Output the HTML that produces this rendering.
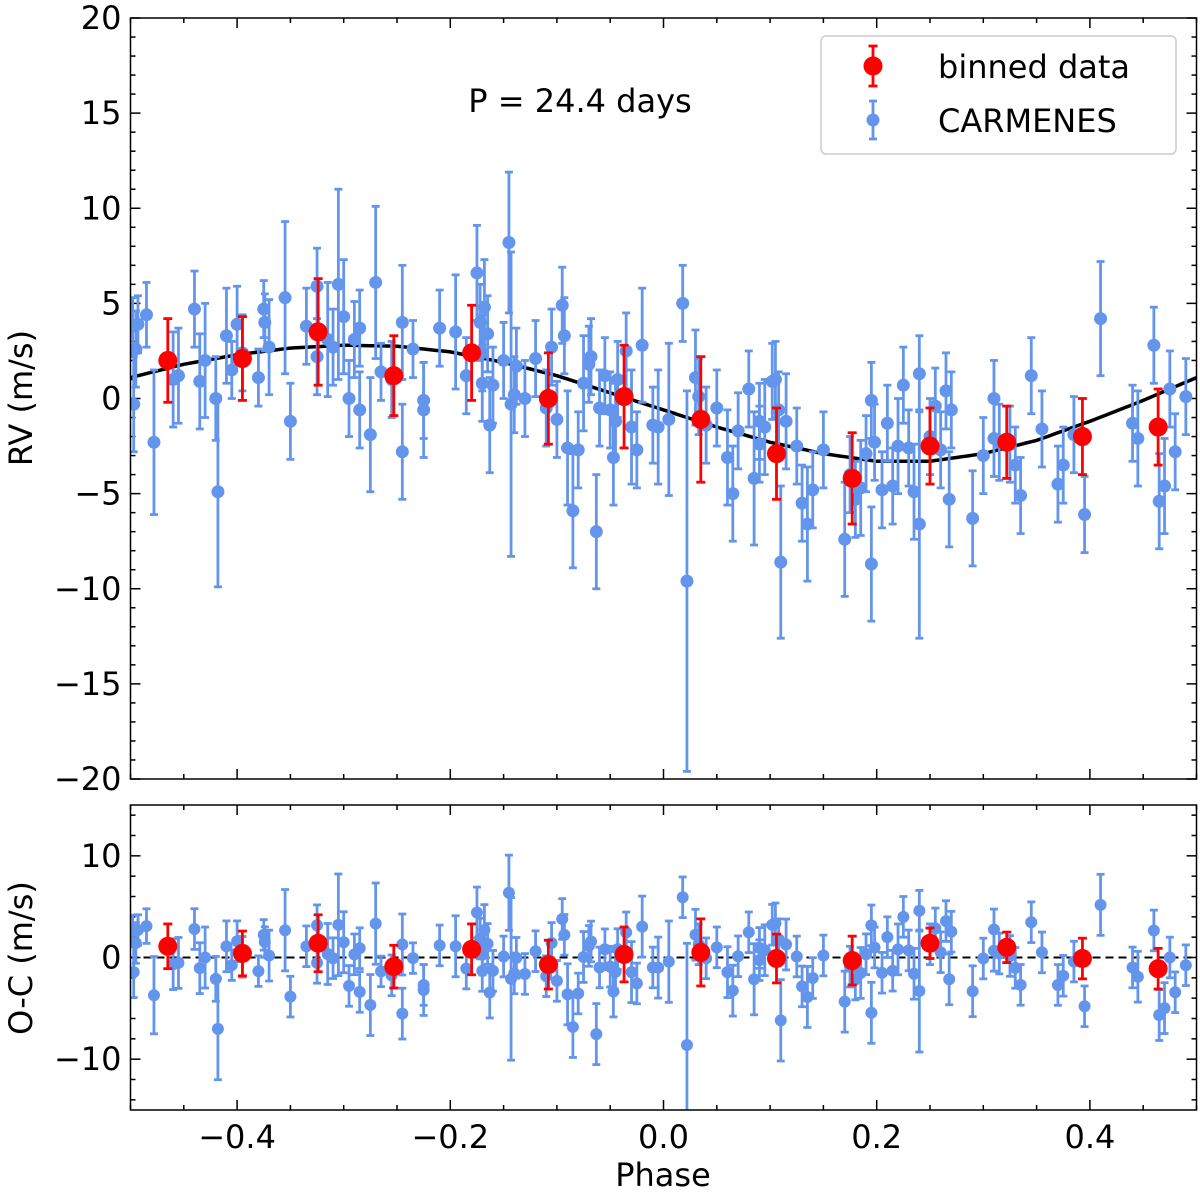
<!DOCTYPE html>
<html><head><meta charset="utf-8"><style>
html,body{margin:0;padding:0;background:#fff;}
svg{display:block;font-family:"DejaVu Sans","Liberation Sans",sans-serif;}
</style></head><body>
<svg id="chart" width="1200" height="1193" viewBox="0 0 1200 1193" xmlns="http://www.w3.org/2000/svg"></svg>
<script>
// ---- data ----
const modelPhases=[-0.5,-0.45,-0.4,-0.35,-0.3,-0.25,-0.2,-0.15,-0.1,-0.05,0,0.05,0.1,0.15,0.2,0.25,0.3,0.35,0.4,0.45,0.5];
const modelRV=[1.1,1.8,2.3,2.65,2.8,2.75,2.45,1.9,1.2,0.3,-0.6,-1.5,-2.3,-2.9,-3.3,-3.3,-2.9,-2.2,-1.2,-0.1,1.1];
const binPhase=[-0.465,-0.395,-0.324,-0.253,-0.18,-0.108,-0.037,0.035,0.106,0.177,0.25,0.322,0.393,0.464];
const binRV=[2.0,2.1,3.5,1.2,2.4,0.0,0.1,-1.1,-2.9,-4.2,-2.5,-2.3,-2.0,-1.5];
const binErr=[2.2,2.2,2.8,2.1,2.5,2.4,2.7,3.3,2.4,2.4,2.0,1.9,2.0,2.0];
const binOC=[1.1,0.4,1.4,-0.9,0.8,-0.7,0.3,0.5,-0.1,-0.3,1.4,1.0,-0.1,-1.1];
const binOCErr=[2.2,2.2,2.8,2.1,2.5,2.4,2.7,3.3,2.4,2.4,1.5,1.5,2.0,2.0];
const ptPhase=[-0.498,-0.497,-0.495,-0.493,-0.485,-0.478,-0.46,-0.455,-0.44,-0.435,-0.43,-0.42,-0.418,-0.41,-0.405,-0.40,-0.395,-0.38,-0.375,-0.374,-0.37,-0.355,-0.35,-0.335,-0.325,-0.325,-0.315,-0.31,-0.305,-0.30,-0.295,-0.29,-0.285,-0.285,-0.275,-0.27,-0.265,-0.255,-0.245,-0.245,-0.235,-0.225,-0.225,-0.21,-0.195,-0.185,-0.175,-0.172,-0.17,-0.17,-0.168,-0.165,-0.163,-0.16,-0.15,-0.145,-0.143,-0.14,-0.138,-0.13,-0.12,-0.11,-0.105,-0.10,-0.095,-0.093,-0.09,-0.085,-0.08,-0.075,-0.07,-0.068,-0.063,-0.06,-0.055,-0.05,-0.047,-0.045,-0.043,-0.035,-0.03,-0.025,-0.02,-0.01,-0.005,0.005,0.018,0.022,0.03,0.033,0.04,0.05,0.06,0.065,0.07,0.08,0.085,0.09,0.09,0.095,0.102,0.105,0.108,0.11,0.115,0.125,0.13,0.135,0.14,0.15,0.17,0.175,0.18,0.185,0.19,0.195,0.195,0.198,0.205,0.21,0.215,0.22,0.225,0.23,0.235,0.24,0.24,0.25,0.255,0.26,0.265,0.268,0.27,0.29,0.30,0.31,0.31,0.315,0.325,0.33,0.335,0.345,0.355,0.37,0.375,0.385,0.395,0.41,0.44,0.445,0.46,0.465,0.47,0.475,0.48,0.49];
const ptRV=[3.8,-0.3,2.6,3.9,4.4,-2.3,1.0,1.2,4.7,0.9,2.0,0.0,-4.9,3.3,1.5,3.9,2.4,1.1,4.7,4.0,2.7,5.3,-1.2,3.8,5.9,2.2,3.1,2.7,6.0,4.3,0.0,3.1,3.7,-0.6,-1.9,6.1,1.4,1.0,4.0,-2.8,2.6,-0.1,-0.6,3.7,3.5,1.2,6.6,4.0,0.8,2.4,4.8,3.4,-1.4,0.7,2.0,8.2,-0.3,0.2,1.7,0.0,2.1,-0.5,2.7,-1.1,4.9,3.3,-2.6,-5.9,-2.7,0.8,1.8,2.2,-7.0,-0.5,1.2,-0.6,-3.1,-1.2,1.0,2.5,-1.5,-2.7,2.8,-1.4,-1.5,-1.1,5.0,-9.6,1.1,0.1,-1.4,-0.5,-3.1,-5.0,-1.7,0.5,-4.2,-2.4,-1.2,-1.5,0.9,1.0,-0.6,-8.6,-1.2,-2.5,-5.5,-6.6,-4.8,-2.7,-7.4,-4.0,-5.3,-4.7,-2.9,-0.1,-8.7,-2.3,-4.8,-1.3,-4.6,-2.5,0.7,-2.6,-4.9,1.3,-6.6,-2.0,-0.4,-2.7,0.4,-5.3,-0.6,-6.3,-3.0,-2.1,0.0,-2.3,-2.4,-3.5,-5.1,1.2,-1.6,-4.5,-3.5,-1.9,-6.1,4.2,-1.3,-2.1,2.8,-5.4,-4.6,0.5,-2.8,0.1];
const ptErr=[1.5,2.5,2,1.5,1.7,3.8,2.5,2.5,2,2.5,3,2.2,5,2.5,1.5,2,2,1.5,1.5,1.5,2.5,4,2,2,2,2,3,2,5,3,2,2,2,2,3,4,1.5,2,3,2.5,1.5,2,2.5,2,3,2,2.5,2,2,2,2.5,2,2.5,2,2,3.7,8,2,2,2,2,2,2,2,2,2,3,3,2,2.5,2,2,3,2,2,2,2.5,2,2,2,3,2,3,2,3,4,2,10,2.5,2,2,2,2.5,2.5,2,2,3.5,2,2,2.5,2,2,2,4,2.5,2,2,3,2,2,3,2,2,2.5,2,2,3,2,2,2,2,2.5,2,2,2.5,2,6,2,2,2,2,2.5,2,2.5,2,2,2,2,2,2,2,2,2,2,2,2,2,3,2,2.5,2,2.5,2.5,2,2,2];
const xTicks=[-0.4,-0.2,0.0,0.2,0.4];
const yTicksTop=[20,15,10,5,0,-5,-10,-15,-20];
const yTicksBot=[10,0,-10];

// ---- scales ----
const X0=130.5,X1=1196.5,T0=18,T1=779,B0=805,B1=1110;
const sx=p=>X0+(p+0.5)*(X1-X0);
const syT=v=>T0+(20-v)*(T1-T0)/40;
const syB=v=>B0+(15-v)*(B1-B0)/30;
const NS="http://www.w3.org/2000/svg";
const svg=document.getElementById('chart');
function mk(tag,attrs,parent){const e=document.createElementNS(NS,tag);for(const k in attrs)e.setAttribute(k,attrs[k]);(parent||svg).appendChild(e);return e;}
function model(p){for(let i=0;i<modelPhases.length-1;i++){if(p<=modelPhases[i+1]){const t=(p-modelPhases[i])/(modelPhases[i+1]-modelPhases[i]);return modelRV[i]+t*(modelRV[i+1]-modelRV[i]);}}return modelRV[modelRV.length-1];}
function fmt(v){return (v<0?'\u2212':'')+Math.abs(v).toString();}
function fmtX(v){return (v<0?'\u2212':'')+Math.abs(v).toFixed(1);}

function panel(name,pTop,pBot,sy,yTicks,minorStep,yMin,yMax,showXLabels){
  const g=mk('g',{});
  
  
  const clip=mk('clipPath',{id:'clip-'+name},g);
  mk('rect',{x:X0,y:pTop,width:X1-X0,height:pBot-pTop},clip);
  const ticks=mk('g',{stroke:'#000','stroke-width':1.5},g);
  
  
  for(let k=0;k<=20;k++){const p=-0.5+k*0.05;const x=sx(p);const major=xTicks.some(t=>Math.abs(t-p)<1e-6);const L=major?10:5;
    mk('line',{x1:x,x2:x,y1:pBot,y2:pBot-L},ticks);mk('line',{x1:x,x2:x,y1:pTop,y2:pTop+L},ticks);}
  for(let v=yMin;v<=yMax+1e-6;v+=minorStep){const y=sy(v);const major=yTicks.includes(Math.round(v*1000)/1000);const L=major?10:5;
    mk('line',{x1:X0,x2:X0+L,y1:y,y2:y},ticks);mk('line',{x1:X1,x2:X1-L,y1:y,y2:y},ticks);}
  yTicks.forEach(v=>{const t=mk('text',{x:X0-9,y:sy(v)+11,'text-anchor':'end','font-size':32},g);t.textContent=fmt(v);
    
    });
  if(showXLabels)xTicks.forEach(v=>{const t=mk('text',{x:sx(v),y:pBot+38,'text-anchor':'middle','font-size':32},g);t.textContent=fmtX(v);
    
    });
  const data=mk('g',{'clip-path':'url(#clip-'+name+')'},g);
  return {g,data};
}
function errPoint(parent,x,y,e1,e2,color,r,cap,w,nm){
  const g=mk('g',{},parent);
  
  
  mk('line',{x1:x,x2:x,y1:e1,y2:e2,stroke:color,'stroke-width':w},g);
  mk('line',{x1:x-cap,x2:x+cap,y1:e1,y2:e1,stroke:color,'stroke-width':w},g);
  mk('line',{x1:x-cap,x2:x+cap,y1:e2,y2:e2,stroke:color,'stroke-width':w},g);
  mk('circle',{cx:x,cy:y,r:r,fill:color},g);
}

const topP=panel('rv-panel',T0,T1,syT,yTicksTop,1,-20,20,false);
const botP=panel('oc-panel',B0,B1,syB,yTicksBot,2,-14,14,true);

let d='';for(let i=0;i<=200;i++){const p=-0.5+i/200;d+=(i?'L':'M')+sx(p).toFixed(1)+','+syT(model(p)).toFixed(1);}
const curve=mk('path',{d:d,fill:'none',stroke:'#000','stroke-width':3.5},topP.data);


const zl=mk('line',{x1:X0,x2:X1,y1:syB(0),y2:syB(0),stroke:'#000','stroke-width':2,'stroke-dasharray':'8,5'},botP.data);



const BLUE='#6495ED',RED='#FF0000';
const nPts=Math.min(ptPhase.length,ptRV.length);
for(let i=0;i<nPts;i++){
  const x=sx(ptPhase[i]),v=ptRV[i],e=(ptErr[i]||2),oc=v-model(ptPhase[i]);
  errPoint(topP.data,x,syT(v),syT(v+e),syT(v-e),BLUE,6.5,4,2.8,'carmenes-point');
  errPoint(botP.data,x,syB(oc),syB(oc+e),syB(oc-e),BLUE,6,4,2.8,'carmenes-residual');
}
for(let i=0;i<binPhase.length;i++){
  const x=sx(binPhase[i]);
  errPoint(topP.data,x,syT(binRV[i]),syT(binRV[i]+binErr[i]),syT(binRV[i]-binErr[i]),RED,9.5,4.5,2.8,'binned-point');
  errPoint(botP.data,x,syB(binOC[i]),syB(binOC[i]+binOCErr[i]),syB(binOC[i]-binOCErr[i]),RED,9.5,4.5,2.8,'binned-residual');
}
[[T0,T1,'rv-frame'],[B0,B1,'oc-frame']].forEach(f=>{const r=mk('rect',{x:X0,y:f[0],width:X1-X0,height:f[1]-f[0],fill:'none',stroke:'#000','stroke-width':1.5});
  
  });

function txt(s,attrs,nm){const t=mk('text',attrs);t.textContent=s;
  
  return t;}
txt('RV (m/s)',{x:0,y:0,'font-size':32,'text-anchor':'middle',transform:'translate(32,398) rotate(-90)'},'y-axis-title-rv');
txt('O-C (m/s)',{x:0,y:0,'font-size':32,'text-anchor':'middle',transform:'translate(32,958) rotate(-90)'},'y-axis-title-oc');
txt('Phase',{x:663,y:1186,'font-size':32,'text-anchor':'middle'},'x-axis-title');
txt('P = 24.4 days',{x:580,y:112,'font-size':32,'text-anchor':'middle'},'period-annotation');

const lg=mk('g',{});


mk('rect',{x:821,y:36,width:355,height:118,rx:5,fill:'#fff',stroke:'#ccc','stroke-width':1.5},lg);
errPoint(lg,873,66,46,86,RED,9.5,4.5,2.8,'legend-entry-binned');
errPoint(lg,873,120,101,139,BLUE,6.5,4,2.8,'legend-entry-carmenes');
const l1=mk('text',{x:938,y:78,'font-size':32},lg);l1.textContent='binned data';


const l2=mk('text',{x:938,y:132,'font-size':32},lg);l2.textContent='CARMENES';


</script>
</body></html>
